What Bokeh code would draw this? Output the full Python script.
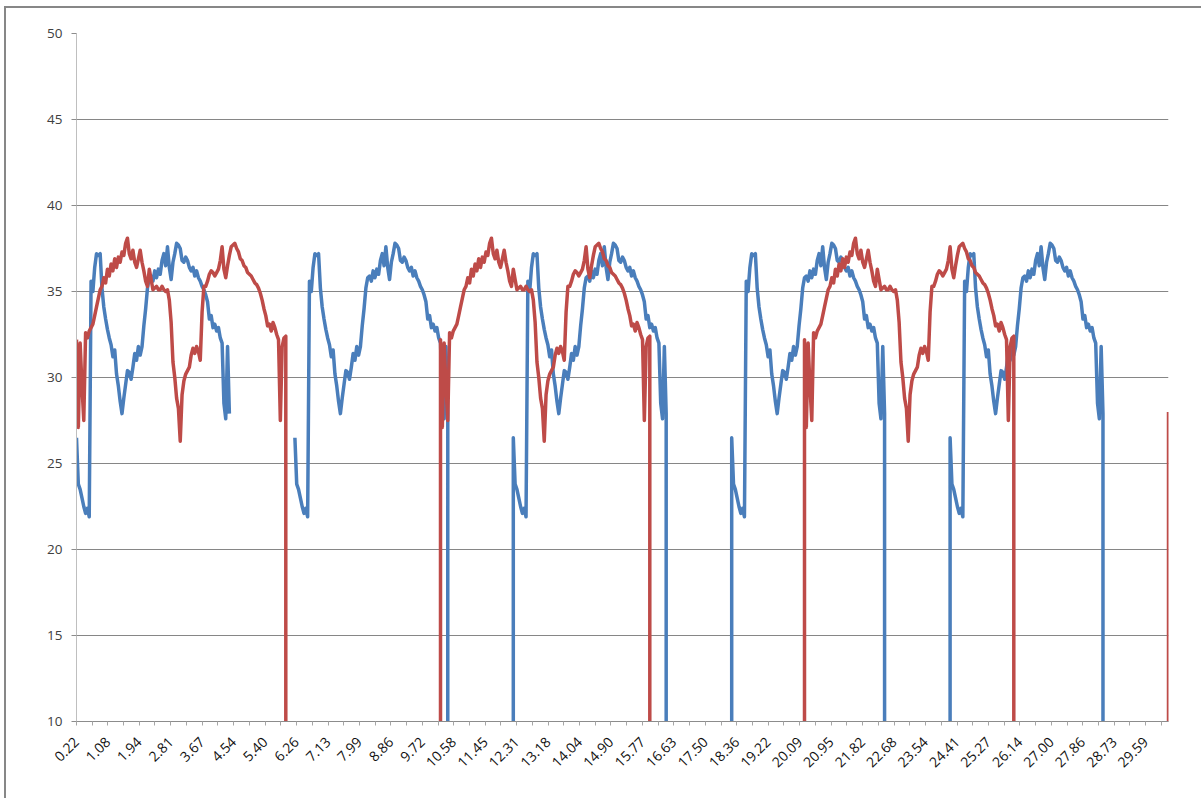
import math
import numpy as np
from bokeh.plotting import figure
from bokeh.models import FixedTicker, Range1d, NumeralTickFormatter
from bokeh.embed import file_html
from bokeh.resources import INLINE

# ---------------- data ----------------
x_tick_labels = ["0.22", "1.08", "1.94", "2.81", "3.67", "4.54", "5.40", "6.26", "7.13",
                 "7.99", "8.86", "9.72", "10.58", "11.45", "12.31", "13.18", "14.04",
                 "14.90", "15.77", "16.63", "17.50", "18.36", "19.22", "20.09", "20.95",
                 "21.82", "22.68", "23.54", "24.41", "25.27", "26.14", "27.00", "27.86",
                 "28.73", "29.59"]
y_ticks = [10, 15, 20, 25, 30, 35, 40, 45, 50]

sample_step = 0.05      # time between samples
off_value = 0.0         # value the series fall to between runs (below the axis)

# one run of the blue series (repeats identically)
blue_cycle = [26.5, 23.8, 23.5, 23.0, 22.5, 22.1, 22.4, 21.9, 35.6, 35.0,
              36.4, 37.2, 37.1, 37.2, 35.2, 34.1, 33.4, 32.8, 32.3, 31.9,
              31.2, 31.6, 30.2, 29.5, 28.6, 27.9, 28.8, 29.6, 30.4, 30.3,
              29.9, 30.6, 31.4, 31.0, 31.8, 31.3, 31.8, 33.0, 34.0, 35.2,
              35.8, 35.9, 35.6, 36.2, 35.8, 36.3, 36.0, 36.8, 37.2, 36.5,
              37.6, 36.4, 35.7, 36.7, 37.2, 37.8, 37.7, 37.5, 36.8, 36.7,
              37.0, 36.8, 36.4, 36.2, 36.4, 35.9, 36.2, 35.8, 35.6, 35.3,
              35.1, 34.8, 34.4, 33.4, 33.6, 32.9, 33.1, 32.7, 32.9, 32.3,
              32.0, 28.5, 27.6, 31.8, 27.9]
blue_starts = [0.22, 6.22, 12.22, 18.22, 24.22]
blue_rise = [False, False, True, True, True]
blue_drop = [False, True, True, True, True]

# one run of the red series (repeats identically)
red_cycle = [32.2, 27.1, 32.0, 29.5, 27.5, 32.6, 32.3, 32.7, 32.9, 33.1,
             33.6, 34.1, 34.6, 35.1, 35.3, 35.8, 35.5, 36.3, 35.9, 36.6,
             36.2, 36.9, 36.4, 37.0, 36.7, 37.3, 37.1, 37.8, 38.1, 37.2,
             36.9, 37.4, 36.7, 36.4, 36.9, 37.4, 36.7, 36.2, 35.6, 35.3,
             36.3, 35.7, 35.1, 35.2, 35.3, 35.1, 35.1, 35.3, 35.1, 35.0,
             35.1, 34.5, 33.2, 30.9, 30.0, 28.8, 28.2, 26.3, 29.0, 29.8,
             30.2, 30.4, 30.6, 31.3, 31.7, 31.4, 31.8, 31.5, 31.0, 33.8,
             35.3, 35.3, 35.6, 36.0, 36.2, 36.1, 35.9, 36.1, 36.3, 36.8,
             37.6, 36.3, 35.8, 36.5, 37.1, 37.6, 37.7, 37.8, 37.5, 37.3,
             36.9, 36.8, 36.5, 36.4, 36.1, 36.0, 35.9, 35.7, 35.5, 35.4,
             35.2, 34.9, 34.5, 34.0, 33.6, 33.0, 33.1, 32.7, 33.2, 32.9,
             32.5, 32.2, 27.5, 31.8, 32.3, 32.4]
red_starts = [0.22, 10.22, 20.22]
red_rise = [False, True, True]
red_drop = [True, True, True]
red_last_t = 30.22
red_last_v = 28.0


def build(cycle, starts, rises, drops):
    xs, ys = [], []
    prev_drop = False
    for s, r, d in zip(starts, rises, drops):
        seg_x = [s + i * sample_step for i in range(len(cycle))]
        if xs and not (prev_drop and r):
            xs.append(np.nan)
            ys.append(np.nan)
        if r:
            xs.append(seg_x[0])
            ys.append(off_value)
        xs.extend(seg_x)
        ys.extend(cycle)
        if d:
            xs.append(seg_x[-1])
            ys.append(off_value)
        prev_drop = d
    return np.array(xs, dtype=float), np.array(ys, dtype=float)


bx, by = build(blue_cycle, blue_starts, blue_rise, blue_drop)
rx, ry = build(red_cycle, red_starts, red_rise, red_drop)
rx = np.append(rx, [red_last_t, red_last_t])
ry = np.append(ry, [off_value, red_last_v])

# ---------------- figure ----------------
p = figure(width=1197, height=792, output_backend="svg", toolbar_location=None,
           x_range=Range1d(0.22, 30.22), y_range=Range1d(10, 50),
           min_border_left=70, min_border_right=35, min_border_top=25,
           min_border_bottom=79)
p.styles = {"border-left": "2px solid #878787", "border-top": "2px solid #878787",
            "margin-left": "4px", "margin-top": "6px"}
p.outline_line_color = None
p.background_fill_color = "white"
p.border_fill_color = "white"

p.xgrid.visible = False
p.ygrid.ticker = FixedTicker(ticks=y_ticks)
p.ygrid.grid_line_color = "#868686"
p.ygrid.grid_line_width = 1

tick_vals = [float(s) for s in x_tick_labels]
half = (tick_vals[-1] - tick_vals[0]) / (len(tick_vals) - 1) / 2
minor_vals = [v + half for v in tick_vals]
p.xaxis.ticker = FixedTicker(ticks=tick_vals, minor_ticks=minor_vals)
p.xaxis.formatter = NumeralTickFormatter(format="0.00")
p.xaxis.major_label_orientation = math.pi / 4
p.xaxis.major_label_text_font = "Open Sans"
p.xaxis.major_label_text_font_size = "14px"
p.xaxis.major_label_text_color = "#111111"
p.xaxis.major_label_standoff = 14
p.xaxis.axis_line_color = "#8c8c8c"
p.xaxis.major_tick_line_color = "#a6a6a6"
p.xaxis.minor_tick_line_color = "#a6a6a6"
p.xaxis.major_tick_out = 4
p.xaxis.major_tick_in = 0
p.xaxis.minor_tick_out = 4
p.xaxis.minor_tick_in = 0

p.yaxis.ticker = FixedTicker(ticks=y_ticks)
p.yaxis.major_label_text_font = "Open Sans"
p.yaxis.major_label_text_font_size = "13.5px"
p.yaxis.major_label_text_color = "#404040"
p.yaxis.major_label_standoff = 9
p.yaxis.axis_line_color = "#bfbfbf"
p.yaxis.major_tick_line_color = "#8c8c8c"
p.yaxis.major_tick_out = 5
p.yaxis.major_tick_in = 0
p.yaxis.minor_tick_line_color = None

p.line(bx, by, line_color="#4A7EBB", line_width=3.5, line_join="round")
p.line(rx, ry, line_color="#BE4B48", line_width=3.5, line_join="round")

open("out.html", "w").write(file_html(p, INLINE))
